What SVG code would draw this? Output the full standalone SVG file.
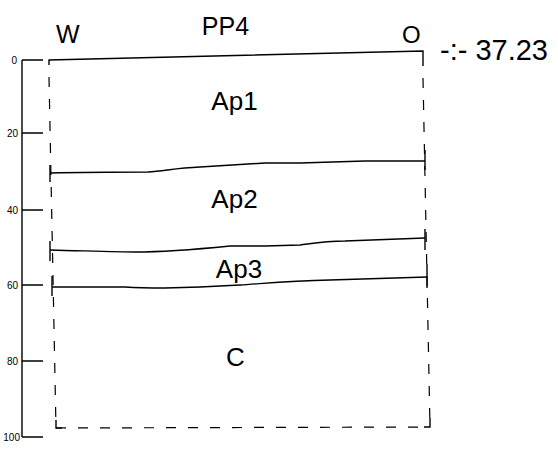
<svg xmlns="http://www.w3.org/2000/svg" width="558" height="462" viewBox="0 0 558 462">
<style>
.t{font-family:"Liberation Sans",Arial,sans-serif;fill:#000}
.big{font-size:25px}
.lbl{font-size:26px;text-anchor:middle}
.ax{font-size:10px;text-anchor:end}
.s{stroke:#000;stroke-width:1.4;fill:none}
.d{stroke:#000;stroke-width:1.2;fill:none;stroke-dasharray:10 12}
</style>
<rect width="558" height="462" fill="#fff"/>
<g id="axis">
<path class="s" d="M22,60 V437 M22,60 H43 M22,133 H43 M22,210 H43 M22,285 H43 M22,361 H43 M22,437 H43"/>
<text class="t ax" x="17" y="64">0</text>
<text class="t ax" x="18" y="137">20</text>
<text class="t ax" x="18" y="214">40</text>
<text class="t ax" x="18" y="289">60</text>
<text class="t ax" x="18" y="365">80</text>
<text class="t ax" x="20" y="441">100</text>
</g>
<g id="profile">
<path class="s" d="M48.5,60 L423,51 V66"/>
<path class="s" d="M49,60 V65"/>
<path class="d" d="M49,77 L56,428"/>
<path class="d" d="M423,78 L430,427"/>
<path class="d" d="M56,428 L430,427"/>
<path class="s" d="M56,420 V428 H62"/>
<path class="s" d="M424,427 H430 V418"/>
</g>
<g id="connectors">
<path class="s" d="M50,173 C90,172 130,172 148,172 C165,171 175,168 200,167 L265,163 L300,163 L365,161 L425,161"/>
<path class="s" d="M425,150 V170 M50,165 V182"/>
<path class="s" d="M50,250 C90,251 120,252 135,252 C165,252 190,250 230,246 L265,246 L300,245 C315,243 325,241 345,241 L425,238"/>
<path class="s" d="M425,229 V250 M50,241 V261"/>
<path class="s" d="M52,287 L125,287 C140,288 150,288 165,288 L200,287 L240,285 C270,283 290,281 330,280 L427,277"/>
<path class="s" d="M427,264 V288 M52,276 V296"/>
</g>
<g id="labels">
<text class="t big" x="56" y="43">W</text>
<text class="t lbl" x="225.5" y="35" style="font-size:25px">PP4</text>
<text class="t" x="402" y="43" style="font-size:24px">O</text>
<text class="t" x="440" y="60" style="font-size:29px">-:- 37.23</text>
</g>
<g id="Ap1"><text class="t lbl" x="234.5" y="110">Ap1</text></g>
<g id="Ap2"><text class="t lbl" x="234.5" y="208">Ap2</text></g>
<g id="Ap3"><text class="t lbl" x="239" y="278">Ap3</text></g>
<g id="C"><text class="t lbl" x="235.5" y="366">C</text></g>
</svg>
